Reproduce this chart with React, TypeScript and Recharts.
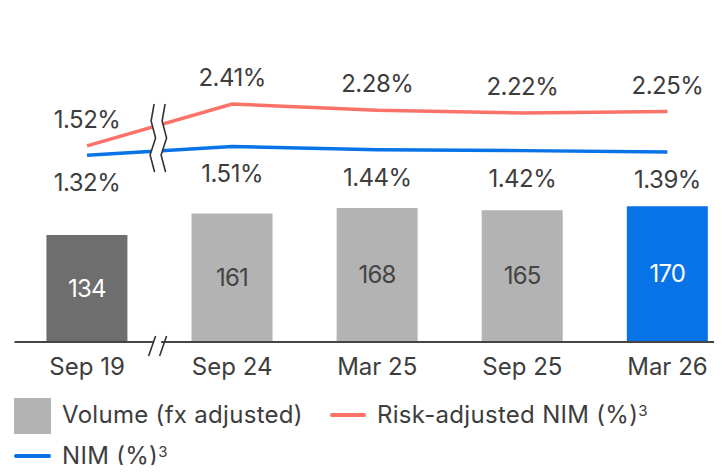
import { ComposedChart, Bar, Line, XAxis, YAxis, Cell, LabelList } from 'recharts'

const periods = ['Sep 19', 'Sep 24', 'Mar 25', 'Sep 25', 'Mar 26']
const volume = [134, 161, 168, 165, 170]
const riskAdjNim = [1.52, 2.41, 2.28, 2.22, 2.25]
const nim = [1.32, 1.51, 1.44, 1.42, 1.39]

const BAR_COLORS = ['#6e6e6e', '#b3b3b3', '#b3b3b3', '#b3b3b3', '#0873e6']
const BAR_TEXT = ['#ffffff', '#444444', '#444444', '#444444', '#ffffff']
const RED = '#fa7268'
const BLUE = '#0873e6'
const TEXT = '#3d3d3d'
const FONT = 'Inter, "Liberation Sans", sans-serif'

const CHART_W = 740
const CHART_H = 390
const MARGIN = { top: 50, right: 0, bottom: 0, left: 14.5 }
const PLOT_BOTTOM = 342

const data = periods.map((p, i) => ({
  period: p,
  volume: volume[i],
  riskAdj: riskAdjNim[i],
  nim: nim[i],
}))

const pct = (v: number) => `${v.toFixed(2)}%`

function RedLabel(props: any) {
  const { x, y, value } = props
  return (
    <text x={x} y={y - 18} textAnchor="middle" fill={TEXT} fontSize={24} fontFamily={FONT} letterSpacing={-0.5}>
      {pct(value)}
    </text>
  )
}

function BlueLabel(props: any) {
  const { x, y, value } = props
  return (
    <text x={x} y={y + 36} textAnchor="middle" fill={TEXT} fontSize={24} fontFamily={FONT} letterSpacing={-0.5}>
      {pct(value)}
    </text>
  )
}

function BarLabel(props: any) {
  const { x, y, width, height, value, index } = props
  return (
    <text
      x={x + width / 2}
      y={y + height / 2 + 8}
      textAnchor="middle"
      fill={BAR_TEXT[index]}
      fontSize={24}
      fontFamily={FONT}
      letterSpacing={-0.8}
    >
      {value}
    </text>
  )
}

// axis break marks between the first and second category
function BreakMarks() {
  const plotW = CHART_W - MARGIN.left - MARGIN.right
  const bx = MARGIN.left + plotW / periods.length - 1.5
  const ys = [104, 121, 138, 155, 172]
  const dx = [-4, -7, -2.5, -8, -3.5]
  const left = ys.map((y, i) => `${bx + dx[i]},${y}`)
  const right = ys.map((y, i) => `${bx + dx[i] + 11},${y}`)
  const fill = [...left, ...right.slice().reverse()].join(' ')
  return (
    <svg width={CHART_W} height={CHART_H} style={{ position: 'absolute', left: 0, top: 0, pointerEvents: 'none' }}>
      <polygon points={fill} fill="#fff" />
      <polyline points={left.join(' ')} fill="none" stroke="#333" strokeWidth={1.6} />
      <polyline points={right.join(' ')} fill="none" stroke="#333" strokeWidth={1.6} />
      <rect x={bx - 5} y={PLOT_BOTTOM - 3} width={8} height={6} fill="#fff" />
      <line x1={bx - 9.5} y1={356} x2={bx - 2.5} y2={336} stroke="#333" strokeWidth={1.6} />
      <line x1={bx + 1.5} y1={356} x2={bx + 8.5} y2={336} stroke="#333" strokeWidth={1.6} />
    </svg>
  )
}

function Legend() {
  const txt = { position: 'absolute' as const, fontSize: 24, fontFamily: FONT, color: TEXT, letterSpacing: 0.3, lineHeight: '28px', whiteSpace: 'nowrap' as const }
  const sup = { fontSize: 15, verticalAlign: 'top', position: 'relative' as const, top: -4 }
  return (
    <>
      <div style={{ position: 'absolute', left: 14, top: 398, width: 37, height: 36, background: '#b3b3b3' }} />
      <div style={{ ...txt, left: 62, top: 401 }}>Volume (fx adjusted)</div>
      <div style={{ position: 'absolute', left: 330, top: 413, width: 36, height: 4, borderRadius: 2, background: RED }} />
      <div style={{ ...txt, left: 377, top: 401 }}>
        Risk-adjusted NIM (%)<span style={sup}>3</span>
      </div>
      <div style={{ position: 'absolute', left: 14, top: 454, width: 37, height: 4, borderRadius: 2, background: BLUE }} />
      <div style={{ ...txt, left: 62, top: 442 }}>
        NIM (%)<span style={sup}>3</span>
      </div>
    </>
  )
}

export default function App() {
  return (
    <div style={{ position: 'relative', margin: -8, width: 722, height: 473, overflow: 'hidden', background: '#fff' }}>
      <ComposedChart width={CHART_W} height={CHART_H} data={data} margin={MARGIN} barCategoryGap="22%">
        <XAxis
          dataKey="period"
          height={CHART_H - PLOT_BOTTOM}
          tickLine={false}
          tickSize={0}
          tickMargin={16}
          axisLine={{ stroke: '#444', strokeWidth: 2 }}
          tick={{ fill: TEXT, fontSize: 24, fontFamily: FONT }}
        />
        <YAxis yAxisId="vol" hide domain={[0, 366]} />
        <YAxis yAxisId="pct" hide domain={[-2.65, 3.56]} />
        <Bar yAxisId="vol" dataKey="volume" isAnimationActive={false}>
          {data.map((_, i) => (
            <Cell key={i} fill={BAR_COLORS[i]} />
          ))}
          <LabelList dataKey="volume" content={BarLabel} />
        </Bar>
        <Line
          yAxisId="pct"
          dataKey="riskAdj"
          type="linear"
          stroke={RED}
          strokeWidth={3.5}
          dot={false}
          isAnimationActive={false}
        >
          <LabelList dataKey="riskAdj" content={RedLabel} />
        </Line>
        <Line
          yAxisId="pct"
          dataKey="nim"
          type="linear"
          stroke={BLUE}
          strokeWidth={3.5}
          dot={false}
          isAnimationActive={false}
        >
          <LabelList dataKey="nim" content={BlueLabel} />
        </Line>
      </ComposedChart>
      <BreakMarks />
      <Legend />
    </div>
  )
}
